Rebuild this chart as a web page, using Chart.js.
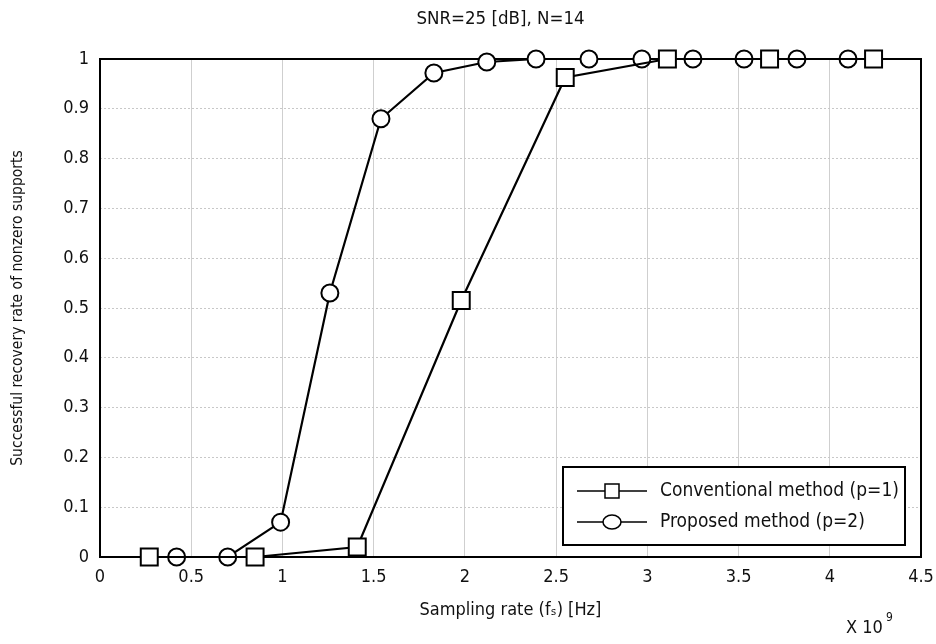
<!DOCTYPE html>
<html>
<head>
<meta charset="utf-8">
<script src="https://cdn.jsdelivr.net/npm/chart.js@4.4.1/dist/chart.umd.min.js"></script>
<style>
  html, body { margin: 0; padding: 0; background: #fff; }
  #wrap { width: 936px; height: 644px; }
</style>
</head>
<body>
<div id="wrap"><canvas id="chart"></canvas></div>
<script>
// Data (x in units of 10^9 Hz)
const convRate = [0.27, 0.85, 1.41, 1.98, 2.55, 3.11, 3.67, 4.24];
const convRecovery = [0, 0, 0.02, 0.515, 0.963, 1, 1, 1];
const propRate = [0.42, 0.70, 0.99, 1.26, 1.54, 1.83, 2.12, 2.39, 2.68, 2.97, 3.25, 3.53, 3.82, 4.10];
const propRecovery = [0, 0, 0.07, 0.53, 0.88, 0.972, 0.994, 1, 1, 1, 1, 1, 1, 1];

const xTickLabels = ['0', '0.5', '1', '1.5', '2', '2.5', '3', '3.5', '4', '4.5'];
const yTickLabels = ['0', '0.1', '0.2', '0.3', '0.4', '0.5', '0.6', '0.7', '0.8', '0.9', '1'];

const seriesNames = ['Conventional method (p=1)', 'Proposed method (p=2)'];
const chartTitle = 'SNR=25 [dB], N=14';

const FONT = "'DejaVu Sans Condensed', 'DejaVu Sans', sans-serif";

const toPoints = (xs, ys) => xs.map((x, i) => ({ x: x, y: ys[i] }));

/**
 * Title, frame around the plot area, legend box and the x10^9 multiplier
 */
const framePlugin = {
    id: 'frame',
    beforeDatasetsDraw(chart) {
        const { ctx, chartArea: a } = chart;
        ctx.save();
        ctx.strokeStyle = '#000';
        ctx.lineWidth = 2;
        ctx.strokeRect(a.left, a.top, a.right - a.left, a.bottom - a.top);
        ctx.restore();
    },
    afterDraw(chart) {
        const { ctx, chartArea: a } = chart;
        ctx.save();

        // title, centred over the plot area
        ctx.fillStyle = '#111';
        ctx.font = '18.5px ' + FONT;
        ctx.textAlign = 'center';
        ctx.textBaseline = 'middle';
        ctx.fillText(chartTitle, (a.left + a.right) / 2 - 10, 19);

        // legend
        const bx = 563, by = 467, bw = 342, bh = 78;
        ctx.fillStyle = '#fff';
        ctx.fillRect(bx, by, bw, bh);
        ctx.strokeStyle = '#000';
        ctx.lineWidth = 2;
        ctx.strokeRect(bx, by, bw, bh);

        chart.data.datasets.forEach((ds, i) => {
            const y = 491 + i * 31;
            ctx.strokeStyle = '#000';
            ctx.lineWidth = 1.5;
            ctx.beginPath();
            ctx.moveTo(577, y);
            ctx.lineTo(647, y);
            ctx.stroke();
            ctx.fillStyle = '#fff';
            if (ds.pointStyle === 'rect') {
                ctx.fillRect(605, y - 7, 14, 14);
                ctx.strokeRect(605, y - 7, 14, 14);
            } else {
                ctx.beginPath();
                ctx.ellipse(612, y, 9, 7, 0, 0, Math.PI * 2);
                ctx.fill();
                ctx.stroke();
            }
            ctx.fillStyle = '#111';
            ctx.font = '19px ' + FONT;
            ctx.textAlign = 'left';
            ctx.textBaseline = 'middle';
            ctx.fillText(ds.label, 660, y);
        });

        // multiplier
        ctx.fillStyle = '#111';
        ctx.textAlign = 'left';
        ctx.textBaseline = 'alphabetic';
        ctx.font = '18px ' + FONT;
        ctx.fillText('X 10', 846, 633);
        ctx.font = '12px ' + FONT;
        ctx.fillText('9', 886, 621);
        ctx.restore();
    }
};

const ctx = document.getElementById('chart').getContext('2d');

new Chart(ctx, {
    type: 'line',
    data: {
        datasets: [
            {
                label: seriesNames[0],
                data: toPoints(convRate, convRecovery),
                borderColor: '#000',
                borderWidth: 2.2,
                pointStyle: 'rect',
                pointRadius: 12,
                pointBorderWidth: 2,
                pointBackgroundColor: '#fff',
                pointBorderColor: '#000',
                clip: false,
            },
            {
                label: seriesNames[1],
                data: toPoints(propRate, propRecovery),
                borderColor: '#000',
                borderWidth: 2.2,
                pointStyle: 'circle',
                pointRadius: 8.5,
                pointBorderWidth: 2,
                pointBackgroundColor: '#fff',
                pointBorderColor: '#000',
                clip: false,
            }
        ]
    },
    options: {
        responsive: true,
        maintainAspectRatio: false,
        animation: false,
        layout: {
            padding: { top: 59, right: 15, bottom: 4, left: 0 }
        },
        plugins: {
            legend: { display: false },
            tooltip: { enabled: false },
            title: { display: false }
        },
        scales: {
            x: {
                type: 'linear',
                min: 0,
                max: 4.5,
                afterBuildTicks: scale => {
                    scale.ticks = xTickLabels.map(v => ({ value: parseFloat(v) }));
                },
                afterFit: scale => {
                    scale.height = 83;
                    scale.paddingLeft = 0;
                    scale.paddingRight = 0;
                },
                ticks: {
                    color: '#111',
                    font: { family: FONT, size: 18 },
                    padding: 10,
                    callback: (value, index) => xTickLabels[index]
                },
                grid: { color: '#cfcfcf', lineWidth: 1, drawTicks: false },
                border: { display: false },
                title: {
                    display: true,
                    text: 'Sampling rate (f\u209B) [Hz]',
                    color: '#111',
                    font: { family: FONT, size: 18 },
                    padding: { top: 0, bottom: 19 }
                }
            },
            y: {
                type: 'linear',
                min: 0,
                max: 1,
                afterBuildTicks: scale => {
                    scale.ticks = yTickLabels.map(v => ({ value: parseFloat(v) }));
                },
                afterFit: scale => { scale.width = 100; },
                ticks: {
                    color: '#111',
                    font: { family: FONT, size: 18 },
                    padding: 11,
                    callback: (value, index) => yTickLabels[index]
                },
                grid: { color: '#c8c8c8', lineWidth: 1, drawTicks: false },
                border: { display: false, dash: [2, 2] },
                title: {
                    display: true,
                    text: 'Successful recovery rate of nonzero supports',
                    color: '#111',
                    font: { family: FONT, size: 15.5 },
                    padding: { top: 8.7, bottom: 0 }
                }
            }
        }
    },
    plugins: [framePlugin]
});
</script>
</body>
</html>
